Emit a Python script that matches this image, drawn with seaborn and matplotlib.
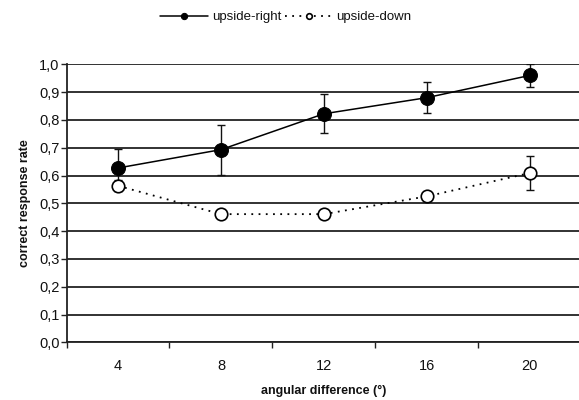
import matplotlib
matplotlib.use("Agg")
import matplotlib.pyplot as plt
import seaborn as sns
import numpy as np
import pandas as pd
from matplotlib.ticker import FixedLocator, FuncFormatter

angles = ["4", "8", "12", "16", "20"]
upright = [0.627, 0.693, 0.822, 0.880, 0.960]
upright_err = [0.07, 0.09, 0.07, 0.055, 0.04]
updown = [0.563, 0.461, 0.461, 0.525, 0.609]
updown_err = [0.02, 0.015, 0.015, 0.015, 0.06]
yticks = [0.0, 0.1, 0.2, 0.3, 0.4, 0.5, 0.6, 0.7, 0.8, 0.9, 1.0]

sns.set_theme(style="white")
plt.rcParams['font.family'] = ['Liberation Sans', 'DejaVu Sans']

pos = np.arange(len(angles))
df = pd.DataFrame({
    "pos": np.concatenate([pos, pos]),
    "rate": upright + updown,
    "cond": ["upside-right"] * len(angles) + ["upside-down"] * len(angles),
})

fig = plt.figure(figsize=(5.79, 4.0), dpi=100)
ax = fig.add_axes([66.5 / 579, 1 - 342.3 / 400, 1 - 66.5 / 579 + 0.004, (342.3 - 64.3) / 400])

# grid lines
for v in yticks:
    ax.axhline(v, color="#222222", lw=1.3, zorder=1)

ax.errorbar(pos, upright, yerr=upright_err, fmt="none", ecolor="#111111",
            elinewidth=1.0, capsize=3, capthick=1.0, zorder=3)
ax.errorbar(pos, updown, yerr=updown_err, fmt="none", ecolor="#111111",
            elinewidth=1.0, capsize=3, capthick=1.0, zorder=3)

sns.lineplot(data=df[df.cond == "upside-right"], x="pos", y="rate", ax=ax,
             color="black", lw=1.1, marker="o", markersize=10,
             markerfacecolor="black", markeredgecolor="black", zorder=4,
             label="upside-right")
sns.lineplot(data=df[df.cond == "upside-down"], x="pos", y="rate", ax=ax,
             color="black", lw=1.3, linestyle=(0, (1, 3)), marker="o", markersize=9,
             markerfacecolor="white", markeredgecolor="black", markeredgewidth=1.2,
             zorder=4, label="upside-down")

ax.set_xlim(-0.5, 4.5)
ax.set_ylim(0, 1.0)
ax.set_xticks(pos)
ax.set_xticklabels(angles)
ax.xaxis.set_minor_locator(FixedLocator(np.arange(-0.5, 5, 1.0)))
ax.set_yticks(yticks)
ax.yaxis.set_major_formatter(FuncFormatter(lambda v, p: f"{v:.1f}".replace(".", ",")))

ax.tick_params(axis="x", which="major", length=0, pad=12, labelsize=10.5, colors="#111111")
ax.tick_params(axis="x", which="minor", bottom=True, length=4, width=1.0, color="#222222", direction="out")
ax.tick_params(axis="y", which="major", left=True, length=4, width=1.0, color="#222222",
               direction="out", labelsize=10.5, pad=1, colors="#111111")

for s in ["top", "right"]:
    ax.spines[s].set_visible(False)
ax.spines["left"].set_color("#222222")
ax.spines["left"].set_linewidth(1.3)
ax.spines["bottom"].set_color("#222222")
ax.spines["bottom"].set_linewidth(1.3)

ax.set_xlabel("angular difference (°)", fontsize=9, fontweight="bold", labelpad=9, color="#111111")
ax.set_ylabel("correct response rate", fontsize=9, fontweight="bold", labelpad=6, color="#111111")

leg = ax.legend(loc="center", bbox_to_anchor=((285 - 66.5) / 512.5, 1 + (64.3 - 17) / 278),
                ncol=2, frameon=False,
                fontsize=9.5, handlelength=3.6, columnspacing=0.3, handletextpad=0.3,
                markerscale=0.45)
for t in leg.get_texts():
    t.set_color("#111111")

fig.savefig("out.png", dpi=100)
